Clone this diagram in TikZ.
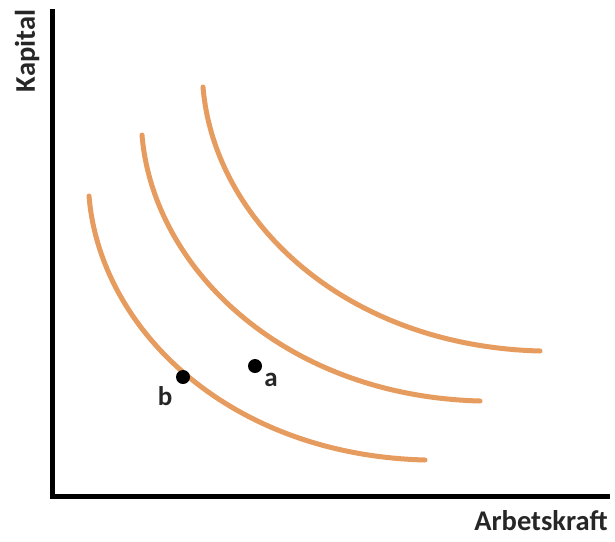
\documentclass[tikz,border=0pt]{standalone}
\usepackage{fontspec}
\setmainfont{Carlito}
\definecolor{curveorange}{RGB}{230,155,95}
\begin{document}
\begin{tikzpicture}[x=1pt,y=-1pt,
  axis/.style={line width=5pt,black},
  iso/.style={line width=5pt,curveorange,line cap=round},
  dot/.style={circle,fill=black,inner sep=0pt,minimum size=14pt},
  lbl/.style={font=\fontsize{28.5}{32}\selectfont\bfseries,text=black!85,inner sep=0pt},
  ptlbl/.style={font=\fontsize{27}{32}\selectfont\bfseries,text=black!85,inner sep=0pt}]
\useasboundingbox (0,0) rectangle (615,541);
% axes
\coordinate (top) at (52.5,9);
\coordinate (origin) at (52.5,496);
\coordinate (right) at (610,496);
\draw[axis] (top) -- (origin) -- (right);
\node[lbl,rotate=90] (kap) at (27,51) {Kapital};
\node[lbl] (arb) at (541,521) {Arbetskraft};
% isoquants
\draw[iso] (89,196) .. controls (100,330) and (230,455) .. (425,460);
\draw[iso] (142,135) .. controls (153,269) and (285,396) .. (480,401);
\draw[iso] (203,87) .. controls (214,221) and (345,346) .. (540,351);
% points
\node[dot] (b) at (183,377) {};
\node[dot] (a) at (255,366) {};
\node[ptlbl] (bl) at (165,396) {b};
\node[ptlbl] (al) at (271,380) {a};
\end{tikzpicture}
\end{document}
